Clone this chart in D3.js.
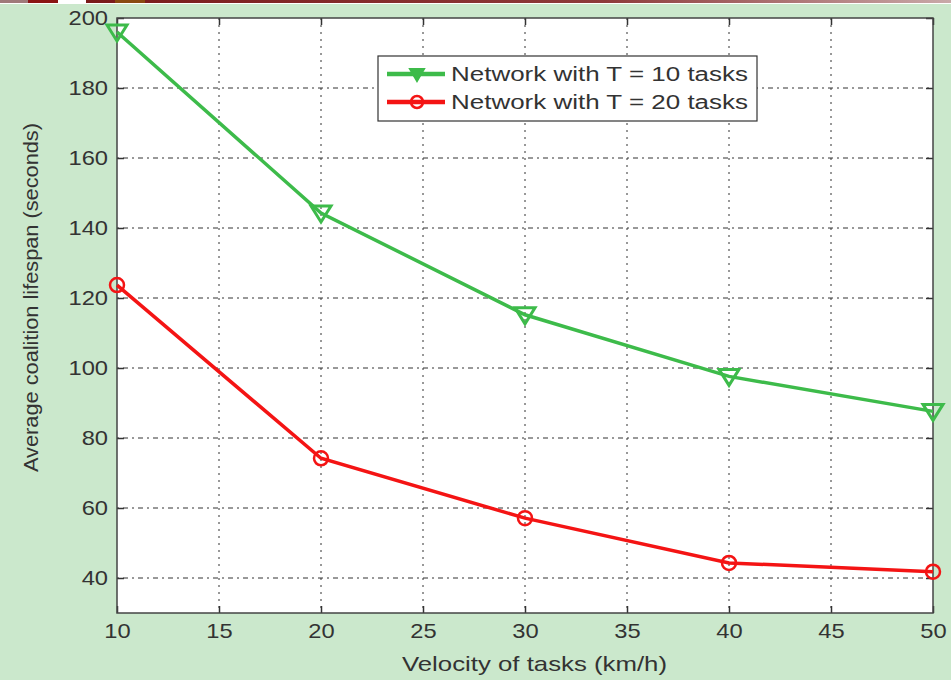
<!DOCTYPE html>
<html lang="en">
<head>
  <meta charset="UTF-8">
  <script src="https://d3js.org/d3.v7.min.js"></script>
  <title>Coalition lifespan</title>
  <style>
    body { margin: 0; background: #cbe8cc; }
    svg { display: block; font-family: "Liberation Sans", Arial, sans-serif; }
  </style>
</head>
<body>
  <script>
    // data
    const velocities = [10, 20, 30, 40, 50];
    const lifespanT10 = [196, 144.3, 115.2, 97.6, 87.6];
    const lifespanT20 = [123.7, 74.2, 57.1, 44.3, 41.8];
    const xTicks = [10, 15, 20, 25, 30, 35, 40, 45, 50];
    const yTicks = [40, 60, 80, 100, 120, 140, 160, 180, 200];
    const seriesNames = ["Network with T = 10 tasks", "Network with T = 20 tasks"];

    /*=======*/
    /* Setup */
    /*=======*/
    const width = 951, height = 680;
    const plotL = 117, plotR = 933, plotT = 18, plotB = 613;
    const stretch = 1.13; // the source picture is a bit wide

    const svg = d3.select("body").append("svg")
                  .attr("width", width)
                  .attr("height", height)

    // top decorative strip
    const grad = svg.append("defs").append("linearGradient").attr("id", "strip")
    grad.append("stop").attr("offset", "0%").attr("stop-color", "#7a1a1a")
    grad.append("stop").attr("offset", "60%").attr("stop-color", "#8e3a3a")
    grad.append("stop").attr("offset", "100%").attr("stop-color", "#c9a9a9")
    svg.append("rect").attr("x", 0).attr("y", 0).attr("width", width).attr("height", 4).attr("fill", "#fff")
    svg.append("rect").attr("x", 0).attr("y", 0).attr("width", 28).attr("height", 3).attr("fill", "#a07a7a")
    svg.append("rect").attr("x", 28).attr("y", 0).attr("width", 30).attr("height", 3).attr("fill", "#8b1414")
    svg.append("rect").attr("x", 86).attr("y", 0).attr("width", width - 86).attr("height", 3).attr("fill", "url(#strip)")
    svg.append("rect").attr("x", 115).attr("y", 0).attr("width", 30).attr("height", 3).attr("fill", "#8a4a10")

    /*========*/
    /* Scales */
    /*========*/
    const xScale = d3.scaleLinear().domain([10, 50]).range([plotL, plotR])
    const yScale = d3.scaleLinear().domain([30, 200]).range([plotB, plotT])

    svg.append("rect")
      .attr("x", plotL).attr("y", plotT)
      .attr("width", plotR - plotL).attr("height", plotB - plotT)
      .attr("fill", "#fff")

    /*======*/
    /* Grid */
    /*======*/
    const grid = svg.append("g").attr("stroke", "#333").attr("stroke-width", 1)
    grid.selectAll(".vg").data(xTicks.slice(1, -1)).enter().append("line")
      .attr("x1", d => xScale(d)).attr("x2", d => xScale(d))
      .attr("y1", plotT).attr("y2", plotB)
      .attr("stroke-dasharray", "2,5")
    grid.selectAll(".hg").data(yTicks.slice(0, -1)).enter().append("line")
      .attr("x1", plotL).attr("x2", plotR)
      .attr("y1", d => yScale(d)).attr("y2", d => yScale(d))
      .attr("stroke-dasharray", "2,4,5,4")

    /*======*/
    /* Axes */
    /*======*/
    const axisStyle = g => {
      g.select(".domain").remove()
      g.selectAll("line").attr("stroke", "#333").attr("stroke-width", 1.5)
      g.selectAll("text").attr("fill", "#333").attr("font-size", 21)
        .attr("x", function() { return (+d3.select(this).attr("x") || 0) / stretch })
        .attr("transform", `scale(${stretch},1)`)
    }
    svg.append("g").attr("transform", `translate(0,${plotB})`)
      .call(d3.axisBottom(xScale).tickValues(xTicks).tickSize(-7).tickPadding(10))
      .call(axisStyle)
    svg.append("g").attr("transform", `translate(0,${plotT})`)
      .call(d3.axisTop(xScale).tickValues(xTicks).tickSize(-7).tickFormat(""))
      .call(axisStyle)
    svg.append("g").attr("transform", `translate(${plotL},0)`)
      .call(d3.axisLeft(yScale).tickValues(yTicks).tickSize(-7).tickPadding(9))
      .call(axisStyle)
    svg.append("g").attr("transform", `translate(${plotR},0)`)
      .call(d3.axisRight(yScale).tickValues(yTicks).tickSize(-7).tickFormat(""))
      .call(axisStyle)

    svg.append("rect")
      .attr("x", plotL).attr("y", plotT)
      .attr("width", plotR - plotL).attr("height", plotB - plotT)
      .attr("fill", "none").attr("stroke", "#444").attr("stroke-width", 1.5)

    /*========*/
    /* Series */
    /*========*/
    const green = "#3dbb4a", red = "#f41414";
    const line = d3.line().x((d, i) => xScale(velocities[i])).y(d => yScale(d))
    const tri = "M-10,-7L10,-7L0,9Z";

    svg.append("path").datum(lifespanT10).attr("d", line)
      .attr("fill", "none").attr("stroke", green).attr("stroke-width", 3.5)
    svg.selectAll(".m10").data(lifespanT10).enter().append("path")
      .attr("d", tri)
      .attr("transform", (d, i) => `translate(${xScale(velocities[i])},${yScale(d)})`)
      .attr("fill", "none").attr("stroke", green).attr("stroke-width", 3)

    svg.append("path").datum(lifespanT20).attr("d", line)
      .attr("fill", "none").attr("stroke", red).attr("stroke-width", 3.5)
    svg.selectAll(".m20").data(lifespanT20).enter().append("circle")
      .attr("cx", (d, i) => xScale(velocities[i])).attr("cy", d => yScale(d))
      .attr("r", 7)
      .attr("fill", "none").attr("stroke", red).attr("stroke-width", 2.5)

    /*========*/
    /* Legend */
    /*========*/
    const legend = svg.append("g").attr("transform", "translate(378,56)")
    legend.append("rect").attr("width", 379).attr("height", 65)
      .attr("fill", "#fff").attr("stroke", "#333").attr("stroke-width", 1.2)
    const colors = [green, red];
    seriesNames.forEach((name, i) => {
      const y = 18 + i * 28;
      legend.append("line").attr("x1", 9).attr("x2", 67).attr("y1", y).attr("y2", y)
        .attr("stroke", colors[i]).attr("stroke-width", 4.5)
      if (i === 0) {
        legend.append("path").attr("d", "M-7,-5L7,-5L0,7Z").attr("transform", `translate(39,${y})`)
          .attr("fill", green).attr("stroke", green).attr("stroke-width", 2)
      } else {
        legend.append("circle").attr("cx", 39).attr("cy", y).attr("r", 6)
          .attr("fill", "none").attr("stroke", red).attr("stroke-width", 2.5)
      }
      legend.append("text").attr("x", 73).attr("y", y + 7)
        .attr("font-size", 20).attr("fill", "#333")
        .attr("textLength", 297).attr("lengthAdjust", "spacingAndGlyphs")
        .text(name)
    })

    /*=============*/
    /* Axis titles */
    /*=============*/
    svg.append("text").attr("x", 402).attr("y", 671)
      .attr("font-size", 21).attr("fill", "#333")
      .attr("textLength", 265).attr("lengthAdjust", "spacingAndGlyphs")
      .text("Velocity of tasks (km/h)")
    svg.append("text").attr("transform", "translate(38,472) rotate(-90)")
      .attr("font-size", 21).attr("fill", "#333")
      .attr("textLength", 349).attr("lengthAdjust", "spacingAndGlyphs")
      .text("Average coalition lifespan (seconds)")
  </script>
</body>
</html>
